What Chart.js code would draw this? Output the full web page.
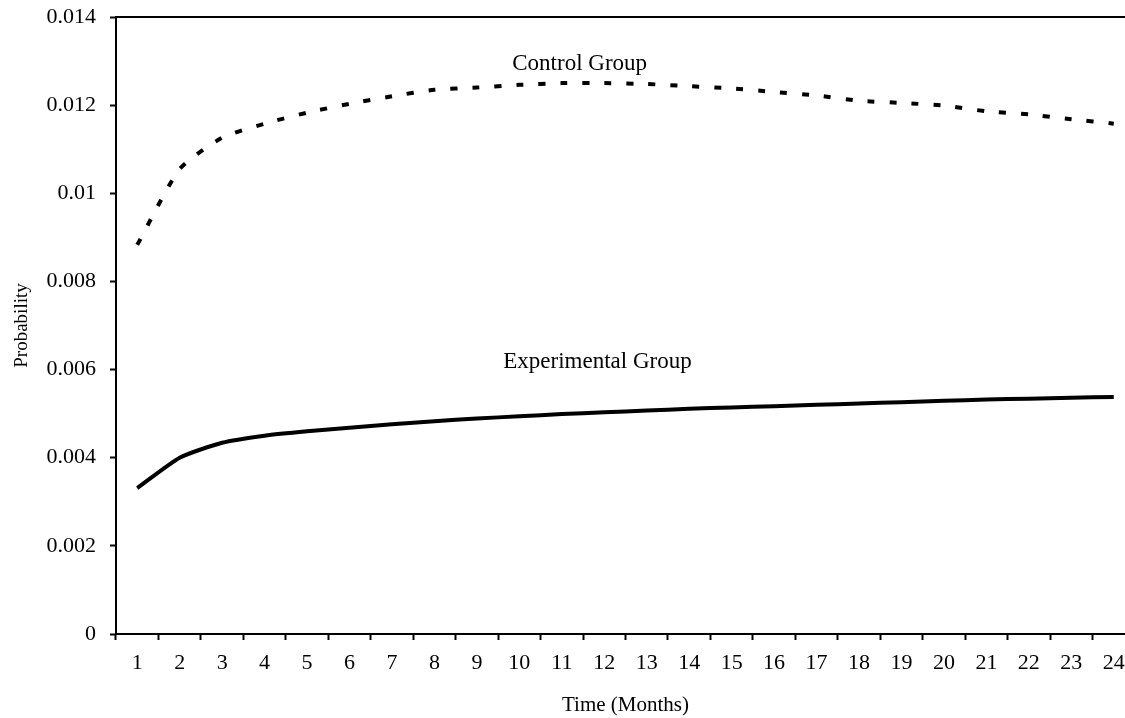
<!DOCTYPE html>
<html>
<head>
<meta charset="utf-8">
<title>Probability over time</title>
<script src="https://cdn.jsdelivr.net/npm/chart.js@4.4.1/dist/chart.umd.min.js"></script>
<style>
  html, body { margin: 0; padding: 0; background: #fff; overflow: hidden; }
  #wrap { width: 1140px; height: 718px; }
</style>
</head>
<body>
<div id="wrap"><canvas id="chart" width="1140" height="718"></canvas></div>
<script>
// Data
const months = ['1', '2', '3', '4', '5', '6', '7', '8', '9', '10', '11', '12',
  '13', '14', '15', '16', '17', '18', '19', '20', '21', '22', '23', '24'];
const controlGroup = [0.00883, 0.01055, 0.01126, 0.01158, 0.01183, 0.01203,
  0.0122, 0.01235, 0.0124, 0.01246, 0.0125, 0.0125, 0.01248, 0.01243, 0.01238,
  0.0123, 0.01222, 0.0121, 0.01205, 0.01199, 0.01186, 0.01179, 0.01168, 0.01158];
const experimentalGroup = [0.00331, 0.004, 0.00434, 0.0045, 0.0046, 0.00468,
  0.00476, 0.00483, 0.00489, 0.00494, 0.00499, 0.00503, 0.00507, 0.00511,
  0.00514, 0.00517, 0.0052, 0.00523, 0.00526, 0.00529, 0.00532, 0.00534,
  0.00536, 0.00538];
const yTickLabels = ['0', '0.002', '0.004', '0.006', '0.008', '0.01', '0.012', '0.014'];

const serif = '"Liberation Serif", "Times New Roman", serif';

// Series names written next to the curves
const curveLabels = {
  id: 'curveLabels',
  afterDatasetsDraw(chart) {
    const ctx = chart.ctx;
    const xs = chart.scales.x;
    const ys = chart.scales.y;
    const items = [
      { text: 'Control Group', at: 10.42, value: 0.01294 },
      { text: 'Experimental Group', at: 10.84, value: 0.00617 },
    ];
    ctx.save();
    ctx.fillStyle = '#000';
    ctx.font = '23px ' + serif;
    ctx.textAlign = 'center';
    ctx.textBaseline = 'middle';
    items.forEach((it) => {
      ctx.fillText(it.text, xs.getPixelForValue(it.at), ys.getPixelForValue(it.value));
    });
    ctx.restore();
  },
};

new Chart(document.getElementById('chart'), {
  type: 'line',
  data: {
    labels: months,
    datasets: [
      {
        label: 'Control Group',
        data: controlGroup,
        borderColor: '#000',
        borderWidth: 4,
        borderDash: [7, 15],
        pointRadius: 0,
        tension: 0.2,
        fill: false,
      },
      {
        label: 'Experimental Group',
        data: experimentalGroup,
        borderColor: '#000',
        borderWidth: 4,
        pointRadius: 0,
        tension: 0.2,
        fill: false,
      },
    ],
  },
  options: {
    responsive: false,
    animation: false,
    layout: { padding: { top: 17, right: 5, left: 0, bottom: 0 } },
    plugins: {
      legend: { display: false },
      tooltip: { enabled: false },
    },
    scales: {
      x: {
        offset: true,
        grid: {
          offset: true,
          drawOnChartArea: false,
          tickLength: 6,
          tickWidth: 2,
          tickColor: '#000',
        },
        border: { color: '#000', width: 2 },
        ticks: {
          color: '#000',
          font: { family: serif, size: 22 },
          padding: 10,
          maxRotation: 0,
          autoSkip: false,
        },
        title: {
          display: true,
          text: 'Time (Months)',
          color: '#000',
          font: { family: serif, size: 21 },
          padding: { top: 0, bottom: 0 },
        },
        afterFit(scale) {
          scale.height = 84;
          scale.paddingLeft = 0;
          scale.paddingRight = 0;
        },
      },
      xTop: {
        type: 'category',
        position: 'top',
        labels: months,
        grid: { display: false },
        ticks: { display: false },
        border: { color: '#000', width: 2 },
        afterFit(scale) {
          scale.height = 0;
        },
      },
      y: {
        min: 0,
        max: 0.014,
        grid: {
          drawOnChartArea: false,
          tickLength: 6,
          tickWidth: 2,
          tickColor: '#000',
        },
        border: { color: '#000', width: 2 },
        ticks: {
          stepSize: 0.002,
          color: '#000',
          font: { family: serif, size: 22 },
          padding: 14,
          callback: (v, i) => yTickLabels[i],
        },
        title: {
          display: true,
          text: 'Probability',
          color: '#000',
          font: { family: serif, size: 19 },
          padding: { top: 11, bottom: 0 },
        },
        afterFit(scale) {
          scale.width = 116;
          scale.paddingTop = 0;
          scale.paddingBottom = 0;
        },
      },
    },
  },
  plugins: [curveLabels],
});
</script>
</body>
</html>
